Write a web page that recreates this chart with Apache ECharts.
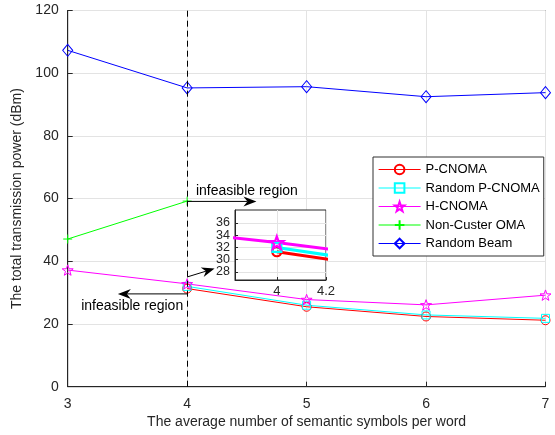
<!DOCTYPE html>
<html>
<head>
<meta charset="utf-8">
<script src="https://cdn.jsdelivr.net/npm/echarts@6/dist/echarts.min.js"></script>
<style>
  html, body { margin: 0; padding: 0; background: #ffffff; }
  #chart { width: 555px; height: 435px; }
</style>
</head>
<body>
<div id="chart"></div>
<script>
// Average number of semantic symbols per word (x) vs. total transmission power in dBm (y)
const symbolsPerWord = [3, 4, 5, 6, 7];
const pCnoma        = [null, 31.3, 25.5, 22.4, 21.2];
const randomPCnoma  = [null, 32.0, 26.0, 22.9, 21.8];
const hCnoma        = [37.2, 32.8, 27.8, 26.1, 29.2];
const nonClusterOma = [47.1, 59.2, null, null, null];
const randomBeam    = [107.3, 95.3, 95.7, 92.5, 93.8];

const seriesNames = ['P-CNOMA', 'Random P-CNOMA', 'H-CNOMA', 'Non-Custer OMA', 'Random Beam'];
const insetXTicks = [4, 4.2];
const insetYTicksA = [28, 32, 36];
const insetYTicksB = [30, 34];
const feasibilityBoundary = 4;
const noteText = 'infeasible region';

const FONT = "'Liberation Sans', Arial, Helvetica, sans-serif";
const INK = '#262626';
const GRID_GRAY = '#e3e3e3';

const STAR = 'path://M0,-10L2.35,-3.24L9.51,-3.09L3.8,1.24L5.88,8.09L0,4L-5.88,8.09L-3.8,1.24L-9.51,-3.09L-2.35,-3.24Z';
const PLUS = 'path://M0,-5L0,5M-5,0L5,0';

const styles = [
  { color: '#ff0000', symbol: 'circle', size: 9 },
  { color: '#00ffff', symbol: 'rect', size: 8 },
  { color: '#ff00ff', symbol: STAR, size: 11 },
  { color: '#00ff00', symbol: PLUS, size: 9 },
  { color: '#0000ff', symbol: 'diamond', size: [10, 12] }
];
const values = [pCnoma, randomPCnoma, hCnoma, nonClusterOma, randomBeam];

function pairs(arr) {
  const out = [];
  arr.forEach((v, i) => { if (v !== null) out.push([symbolsPerWord[i], v]); });
  return out;
}

const series = [];
values.forEach((arr, k) => {
  const s = styles[k];
  series.push({
    name: seriesNames[k],
    type: 'line',
    xAxisIndex: 0, yAxisIndex: 0,
    data: pairs(arr),
    symbol: s.symbol,
    symbolSize: s.size,
    symbolKeepAspect: true,
    showSymbol: true,
    color: s.color,
    lineStyle: { color: s.color, width: 1 },
    itemStyle: { color: 'rgba(0,0,0,0)', borderColor: s.color, borderWidth: 1 },
    emphasis: { disabled: true },
    animation: false,
    z: 3
  });
});

// Magnified view around x = 4 (only the three CNOMA curves)
[0, 1, 2].forEach(k => {
  const s = styles[k];
  series.push({
    name: seriesNames[k] + ' ',
    type: 'line',
    xAxisIndex: 1, yAxisIndex: 1,
    data: pairs(values[k]),
    symbol: s.symbol,
    symbolSize: k === 2 ? 13 : 9,
    symbolKeepAspect: true,
    clip: true,
    color: s.color,
    lineStyle: { color: s.color, width: 3 },
    itemStyle: { color: 'rgba(0,0,0,0)', borderColor: s.color, borderWidth: 2.2 },
    emphasis: { disabled: true },
    animation: false,
    z: 12
  });
});

// Dashed boundary between feasible and infeasible settings
series[0].markLine = {
  silent: true,
  symbol: 'none',
  label: { show: false },
  lineStyle: { color: '#000000', type: [6, 4], width: 1 },
  data: [{ xAxis: feasibilityBoundary }],
  animation: false
};

const insetYAxis = (ticks, primary) => ({
  type: 'value', gridIndex: 1, min: 26.7, max: 38.1,
  axisLine: { show: primary, lineStyle: { color: INK } },
  axisTick: { inside: true, length: 3, customValues: ticks, lineStyle: { color: INK } },
  axisLabel: { customValues: ticks, fontFamily: FONT, fontSize: 12.5, color: INK, margin: 5, showMinLabel: true, showMaxLabel: true },
  splitLine: { show: true, lineStyle: { color: GRID_GRAY } },
  z: 9
});

const chart = echarts.init(document.getElementById('chart'), null, { renderer: 'canvas' });

chart.setOption({
  backgroundColor: '#ffffff',
  animation: false,
  textStyle: { fontFamily: FONT },
  grid: [
    { left: 67.7, right: 9.5, top: 10.5, bottom: 48.3, show: true, borderColor: INK, borderWidth: 1, backgroundColor: 'transparent' },
    { left: 235, top: 210, width: 91, height: 70, show: true, borderColor: INK, borderWidth: 1, backgroundColor: '#ffffff', z: 8 }
  ],
  legend: {
    data: seriesNames,
    orient: 'vertical',
    left: 373, top: 157,
    padding: [6, 4, 6, 5],
    itemGap: 5.5,
    itemWidth: 42,
    itemHeight: 12,
    backgroundColor: '#ffffff',
    borderColor: '#303030',
    borderWidth: 1,
    lineStyle: { width: 1.2 },
    textStyle: { fontFamily: FONT, fontSize: 13, color: '#000000' },
    selectedMode: false,
    z: 20
  },
  xAxis: [
    {
      type: 'value', gridIndex: 0, min: 3, max: 7, interval: 1,
      name: 'The average number of semantic symbols per word',
      nameLocation: 'middle', nameGap: 28,
      nameTextStyle: { fontFamily: FONT, fontSize: 14, color: INK },
      axisLine: { lineStyle: { color: INK } },
      axisTick: { inside: true, length: 5, lineStyle: { color: INK } },
      axisLabel: { fontFamily: FONT, fontSize: 14, color: INK, margin: 10 },
      splitLine: { show: true, lineStyle: { color: GRID_GRAY } }
    },
    {
      type: 'value', gridIndex: 1, min: 3.83, max: 4.2,
      axisLine: { lineStyle: { color: INK } },
      axisTick: { inside: true, length: 3, customValues: insetXTicks, lineStyle: { color: INK } },
      axisLabel: { customValues: insetXTicks, fontFamily: FONT, fontSize: 13, color: INK, margin: 5, showMinLabel: true, showMaxLabel: true },
      splitLine: { show: true, lineStyle: { color: GRID_GRAY } },
      z: 9
    }
  ],
  yAxis: [
    {
      type: 'value', gridIndex: 0, min: 0, max: 120, interval: 20,
      name: 'The total transmission power (dBm)',
      nameLocation: 'middle', nameGap: 33,
      nameTextStyle: { fontFamily: FONT, fontSize: 14, color: INK },
      axisLine: { lineStyle: { color: INK } },
      axisTick: { inside: true, length: 5, lineStyle: { color: INK } },
      axisLabel: { fontFamily: FONT, fontSize: 14, color: INK, margin: 9 },
      splitLine: { show: true, lineStyle: { color: GRID_GRAY } }
    },
    insetYAxis(insetYTicksA, true),
    Object.assign(insetYAxis(insetYTicksB, false), { position: 'left', offset: 0 })
  ],
  series: series
});

// Text notes and arrows, placed in data coordinates of the main axes
const notes = [
  { text: [4.5, 62.4], from: [4.0, 59.1], to: [4.58, 59.1] },
  { text: [3.54, 25.8], from: [4.0, 29.6], to: [3.42, 29.6] }
];
const pointerFrom = [4.0, 35.0];
const pointerTo = [4.23, 37.7];

function px(p) { return chart.convertToPixel({ gridIndex: 0 }, p); }

function arrow(a, b) {
  const dx = b[0] - a[0], dy = b[1] - a[1];
  const len = Math.hypot(dx, dy);
  const ux = dx / len, uy = dy / len;
  const nx = -uy, ny = ux;
  const headLen = 13, headHalf = 5, notch = 9;
  const back = [b[0] - ux * headLen, b[1] - uy * headLen];
  const mid = [b[0] - ux * notch, b[1] - uy * notch];
  return [
    { type: 'line', shape: { x1: a[0], y1: a[1], x2: mid[0], y2: mid[1] }, style: { stroke: '#000000', lineWidth: 1 }, z: 15 },
    { type: 'polygon', shape: { points: [b, [back[0] + nx * headHalf, back[1] + ny * headHalf], mid, [back[0] - nx * headHalf, back[1] - ny * headHalf]] }, style: { fill: '#000000' }, z: 15 }
  ];
}

const elements = [];
notes.forEach(n => {
  const t = px(n.text);
  elements.push({
    type: 'text', x: t[0], y: t[1], z: 15,
    style: { text: noteText, font: '14px ' + FONT, fill: '#000000', align: 'center', verticalAlign: 'middle' }
  });
  elements.push(...arrow(px(n.from), px(n.to)));
});
elements.push(...arrow(px(pointerFrom), px(pointerTo)));

chart.setOption({ graphic: { elements: elements } });
</script>
</body>
</html>
